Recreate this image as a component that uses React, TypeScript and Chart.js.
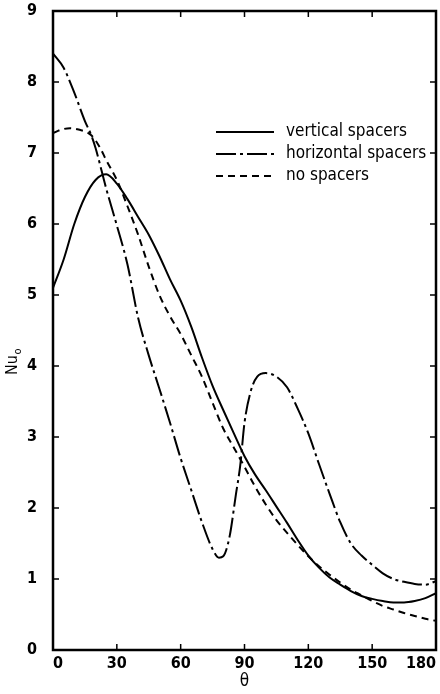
import React, { useEffect, useRef } from "react";
import { Chart, registerables } from "chart.js";

Chart.register(...registerables);

// ---- data ----
const thetaVertical = [0, 5, 10, 15, 20, 25, 30, 35, 40, 45, 50, 55, 60, 65, 70, 75, 80, 85, 90, 95, 100, 105, 110, 115, 120, 125, 130, 135, 140, 145, 150, 155, 160, 165, 170, 175, 180];
const nuVertical = [5.1, 5.5, 6.0, 6.38, 6.62, 6.7, 6.57, 6.35, 6.1, 5.85, 5.55, 5.22, 4.92, 4.55, 4.12, 3.72, 3.38, 3.05, 2.73, 2.47, 2.25, 2.02, 1.79, 1.55, 1.33, 1.16, 1.02, 0.92, 0.83, 0.76, 0.72, 0.69, 0.67, 0.67, 0.69, 0.73, 0.8];

const thetaHorizontal = [0, 5, 10, 15, 18, 20, 25, 30, 35, 40, 45, 50, 55, 60, 65, 70, 75, 78, 80, 83, 86, 88, 90, 93, 96, 100, 105, 110, 115, 120, 125, 130, 135, 140, 145, 150, 155, 160, 165, 170, 175, 180];
const nuHorizontal = [8.4, 8.2, 7.85, 7.45, 7.25, 7.07, 6.5, 5.98, 5.43, 4.68, 4.15, 3.68, 3.2, 2.7, 2.25, 1.8, 1.42, 1.3, 1.32, 1.6, 2.2, 2.6, 3.2, 3.65, 3.85, 3.9, 3.85, 3.7, 3.4, 3.05, 2.62, 2.2, 1.8, 1.5, 1.33, 1.2, 1.08, 1.0, 0.96, 0.93, 0.92, 0.97];

const thetaNone = [0, 4, 8, 12, 18, 22, 25, 30, 35, 40, 45, 50, 55, 60, 65, 70, 75, 80, 85, 90, 95, 100, 105, 110, 115, 120, 125, 130, 135, 140, 145, 150, 155, 160, 165, 170, 175, 180];
const nuNone = [7.28, 7.33, 7.35, 7.33, 7.25, 7.08, 6.9, 6.62, 6.25, 5.85, 5.4, 5.0, 4.7, 4.45, 4.15, 3.85, 3.48, 3.12, 2.85, 2.58, 2.3, 2.05, 1.83, 1.65, 1.48, 1.32, 1.18, 1.06, 0.95, 0.85, 0.77, 0.69, 0.62, 0.57, 0.52, 0.48, 0.44, 0.41];

const seriesLabels = ["vertical spacers", "horizontal spacers", "no spacers"];
const xTicks = [0, 30, 60, 90, 120, 150, 180];
const yTicks = [0, 1, 2, 3, 4, 5, 6, 7, 8, 9];
const xTitle = "θ";
const yTitleMain = "Nu";
const yTitleSub = "o";

const FONT = "'DejaVu Sans Condensed', 'DejaVu Sans', sans-serif";

const DASH_DOT = [20, 4, 3, 4];
const DASHED = [7, 5];

const toPoints = (xs: number[], ys: number[]) => xs.map((x, i) => ({ x, y: ys[i] }));

const framePlugin = {
  id: "frame",
  afterDraw(chart: any) {
    const { ctx, chartArea: ca } = chart;
    const xs = chart.scales.x;
    const ys = chart.scales.y;
    ctx.save();
    ctx.strokeStyle = "#000";
    ctx.lineWidth = 2.5;
    ctx.strokeRect(ca.left, ca.top, ca.right - ca.left, ca.bottom - ca.top);
    ctx.lineWidth = 1.5;
    const tl = 6;
    ctx.beginPath();
    xTicks.forEach((v) => {
      const px = xs.getPixelForValue(v);
      ctx.moveTo(px, ca.bottom);
      ctx.lineTo(px, ca.bottom - tl);
      ctx.moveTo(px, ca.top);
      ctx.lineTo(px, ca.top + tl);
    });
    yTicks.forEach((v) => {
      const py = ys.getPixelForValue(v);
      ctx.moveTo(ca.left, py);
      ctx.lineTo(ca.left + tl, py);
      ctx.moveTo(ca.right, py);
      ctx.lineTo(ca.right - tl, py);
    });
    ctx.stroke();

    // legend
    const lx0 = 216, lx1 = 274, tx = 286;
    const rows = [132, 154, 176];
    chart.data.datasets.forEach((ds: any, i: number) => {
      const y = rows[i];
      ctx.beginPath();
      ctx.setLineDash(ds.borderDash || []);
      ctx.lineWidth = 2;
      ctx.moveTo(lx0, y);
      ctx.lineTo(lx1, y);
      ctx.stroke();
      ctx.setLineDash([]);
      ctx.fillStyle = "#000";
      ctx.font = `17px ${FONT}`;
      ctx.textAlign = "left";
      ctx.textBaseline = "middle";
      ctx.fillText(ds.label, tx, y);
    });

    // y title
    ctx.save();
    ctx.translate(13, 362);
    ctx.rotate(-Math.PI / 2);
    ctx.font = `16px ${FONT}`;
    const w = ctx.measureText(yTitleMain).width;
    ctx.font = `11px ${FONT}`;
    const ws = ctx.measureText(yTitleSub).width;
    const start = -(w + ws) / 2;
    ctx.font = `16px ${FONT}`;
    ctx.textAlign = "left";
    ctx.textBaseline = "middle";
    ctx.fillText(yTitleMain, start, 0);
    ctx.font = `11px ${FONT}`;
    ctx.fillText(yTitleSub, start + w + 0.5, 5);
    ctx.restore();
    ctx.restore();
  },
};

export default function App() {
  const ref = useRef<HTMLCanvasElement | null>(null);
  useEffect(() => {
    document.body.style.margin = "0";
    const canvas = ref.current!;
    const chart = new Chart(canvas, {
      type: "line",
      data: {
        datasets: [
          {
            label: seriesLabels[0],
            data: toPoints(thetaVertical, nuVertical),
            borderColor: "#000",
            borderWidth: 2,
            pointRadius: 0,
            cubicInterpolationMode: "monotone",
            fill: false,
          },
          {
            label: seriesLabels[1],
            data: toPoints(thetaHorizontal, nuHorizontal),
            borderColor: "#000",
            borderWidth: 2,
            borderDash: DASH_DOT,
            pointRadius: 0,
            cubicInterpolationMode: "monotone",
            fill: false,
          },
          {
            label: seriesLabels[2],
            data: toPoints(thetaNone, nuNone),
            borderColor: "#000",
            borderWidth: 2,
            borderDash: DASHED,
            pointRadius: 0,
            cubicInterpolationMode: "monotone",
            fill: false,
          },
        ],
      } as any,
      options: {
        animation: false,
        responsive: false,
        devicePixelRatio: 1,
        layout: { padding: { top: 11, right: 4, left: 0, bottom: 0 } },
        plugins: { legend: { display: false }, tooltip: { enabled: false } },
        scales: {
          x: {
            type: "linear",
            min: 0,
            max: 180,
            afterBuildTicks: (s: any) => {
              s.ticks = xTicks.map((v) => ({ value: v }));
            },
            afterFit: (s: any) => {
              s.height = 44;
              s.paddingLeft = 0;
              s.paddingRight = 0;
              s.paddingTop = 0;
              s.paddingBottom = 0;
            },
            grid: { display: false, drawTicks: false },
            border: { display: false },
            ticks: {
              color: "#000",
              font: { family: FONT, size: 16, weight: "bold" },
              padding: 4,
              maxRotation: 0,
              align: "inner",
            },
            title: {
              display: true,
              text: xTitle,
              color: "#000",
              font: { family: FONT, size: 17 },
              padding: { top: 0, bottom: 2 },
            },
          },
          y: {
            type: "linear",
            min: 0,
            max: 9,
            afterBuildTicks: (s: any) => {
              s.ticks = yTicks.map((v) => ({ value: v }));
            },
            afterFit: (s: any) => {
              s.width = 53;
              s.paddingLeft = 0;
              s.paddingRight = 0;
              s.paddingTop = 0;
              s.paddingBottom = 0;
            },
            grid: { display: false, drawTicks: false },
            border: { display: false },
            ticks: {
              color: "#000",
              font: { family: FONT, size: 16, weight: "bold" },
              padding: 16,
            },
          },
        },
      } as any,
      plugins: [framePlugin],
    });
    return () => chart.destroy();
  }, []);
  return (
    <div style={{ width: 440, height: 694 }}>
      <canvas ref={ref} width={440} height={694} style={{ display: "block", width: 440, height: 694 }} />
    </div>
  );
}
